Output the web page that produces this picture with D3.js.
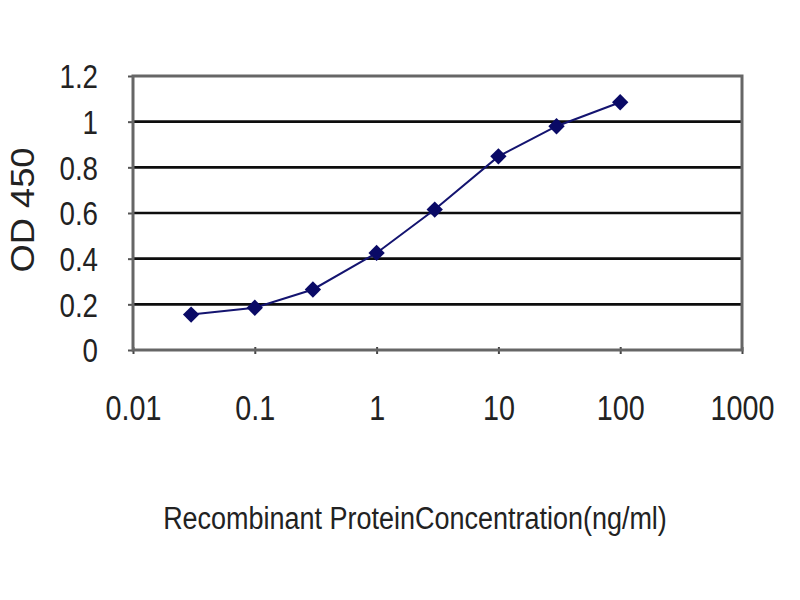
<!DOCTYPE html>
<html>
<head>
    <meta charset="utf-8">
    <style>
        body{
            margin: 0;
            background: #fff;
        }
        text{
            font-family: "Liberation Sans Narrow", "Arial Narrow", "Liberation Sans", Arial, sans-serif;
            fill: #222;
        }
    </style>
</head>

<body>
    <svg width="800" height="600"></svg>
</body>

<script src="https://cdnjs.cloudflare.com/ajax/libs/d3/7.8.5/d3.min.js"></script>

<script>
    // values
    let concentrations = [0.03, 0.1, 0.3, 1, 3, 10, 30, 100]
    let od450 = [0.155, 0.185, 0.265, 0.425, 0.615, 0.848, 0.98, 1.085]
    let xTicks = [0.01, 0.1, 1, 10, 100, 1000]
    let xTickLabels = ["0.01", "0.1", "1", "10", "100", "1000"]
    let yTicks = [0, 0.2, 0.4, 0.6, 0.8, 1, 1.2]
    let yTickLabels = ["0", "0.2", "0.4", "0.6", "0.8", "1", "1.2"]

    let plotLeft = 133, plotRight = 742, plotTop = 76, plotBottom = 350

    let svg = d3.select("svg")

    // the original text is a tall narrow face: squeeze a larger font sideways
    function narrow(sel, factor) {
        sel.each(function() {
            let w = this.getComputedTextLength()
            d3.select(this)
                .attr("textLength", w * factor)
                .attr("lengthAdjust", "spacingAndGlyphs")
        })
    }

    let x = d3.scaleLog()
        .domain([0.01, 1000])
        .range([plotLeft, plotRight])

    let y = d3.scaleLinear()
        .domain([0, 1.2])
        .range([plotBottom, plotTop])

    // horizontal gridlines
    svg.append("g")
        .selectAll("line")
        .data(yTicks.filter(d => d > 0 && d < 1.2))
        .join("line")
        .attr("x1", plotLeft)
        .attr("x2", plotRight)
        .attr("y1", d => y(d))
        .attr("y2", d => y(d))
        .style("stroke", "#0d0d0d")
        .style("stroke-width", 2.6)

    // y axis with ticks pointing left
    let yAxis = svg.append("g")
        .attr("transform", `translate(${plotLeft},0)`)
        .call(d3.axisLeft(y)
            .tickValues(yTicks)
            .tickFormat((d, i) => yTickLabels[i])
            .tickSize(5)
            .tickPadding(30))
    yAxis.select(".domain").remove()
    yAxis.selectAll(".tick line").style("stroke", "#555").style("stroke-width", 2)
    yAxis.selectAll("text")
        .attr("dy", "0.36em")
        .style("font-size", "33px")
        .style("fill", "#222")
        .call(narrow, 0.84)

    // x axis: ticks cross the bottom edge
    let xAxis = svg.append("g")
        .attr("transform", `translate(0,${plotBottom})`)
        .call(d3.axisBottom(x)
            .tickValues(xTicks)
            .tickFormat((d, i) => xTickLabels[i])
            .tickSize(4)
            .tickPadding(41))
    xAxis.select(".domain").remove()
    xAxis.selectAll(".tick line")
        .attr("y1", -3)
        .style("stroke", "#444")
        .style("stroke-width", 2)
    xAxis.selectAll("text")
        .style("font-size", "35px")
        .style("fill", "#222")
        .call(narrow, 0.82)

    // plot frame
    svg.append("rect")
        .attr("x", plotLeft)
        .attr("y", plotTop)
        .attr("width", plotRight - plotLeft)
        .attr("height", plotBottom - plotTop)
        .style("fill", "none")
        .style("stroke", "#666")
        .style("stroke-width", 3)

    let pts = concentrations.map((c, i) => [c, od450[i]])

    svg.append("path")
        .datum(pts)
        .attr("d", d3.line().x(d => x(d[0])).y(d => y(d[1])))
        .style("fill", "none")
        .style("stroke", "#141470")
        .style("stroke-width", 2)

    svg.append("g")
        .selectAll("path")
        .data(pts)
        .join("path")
        .attr("transform", d => `translate(${x(d[0])},${y(d[1])})`)
        .attr("d", d3.symbol().type(d3.symbolDiamond2).size(170))
        .style("fill", "#0a0a66")

    // axis titles
    svg.append("text")
        .attr("x", 415)
        .attr("y", 529)
        .attr("text-anchor", "middle")
        .style("font-size", "31px")
        .text("Recombinant ProteinConcentration(ng/ml)")
        .call(narrow, 0.87)

    svg.append("text")
        .attr("transform", "translate(34,210) rotate(-90)")
        .attr("text-anchor", "middle")
        .style("font-size", "33px")
        .text("OD 450")
        .call(narrow, 1.1)
</script>
</html>
